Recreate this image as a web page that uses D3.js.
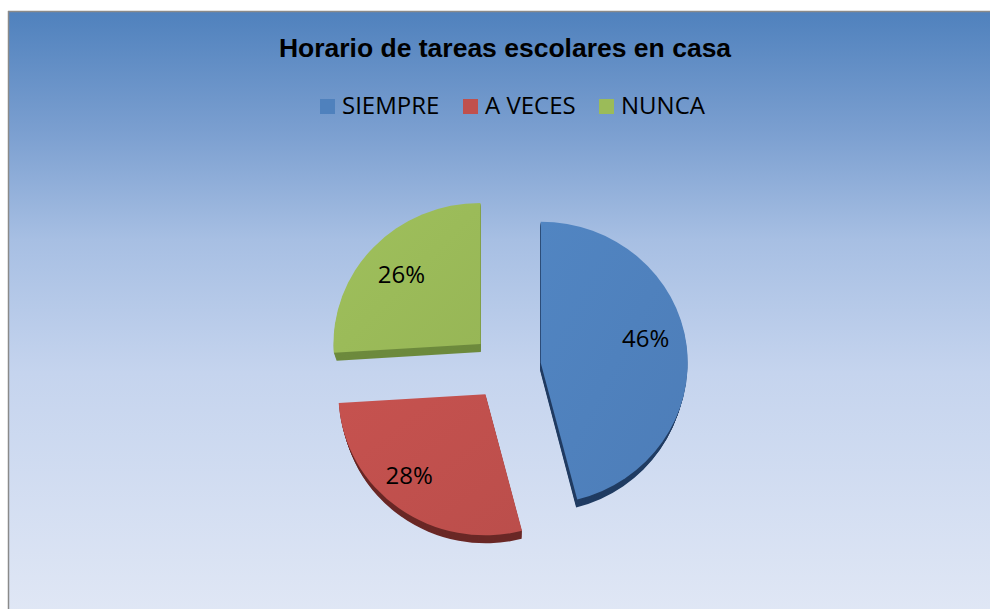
<!DOCTYPE html>
<html>
<head>
<meta charset="utf-8">
<script src="https://cdn.jsdelivr.net/npm/d3@7"></script>
<style>
html,body{margin:0;padding:0;background:#fff;}
svg{display:block;}
</style>
</head>
<body>
<svg id="chart" width="990" height="609"></svg>
<script>
// ---- data ----
const title = "Horario de tareas escolares en casa";
const categories = ["SIEMPRE", "A VECES", "NUNCA"];
const values = [46, 28, 26];
const labels = ["46%", "28%", "26%"];
const colors = ["#4f81bd", "#c0504d", "#9bbb59"];
const sideColors = ["#203c62", "#6a2826", "#6d8a3d"];

const W = 990, H = 609;
const svg = d3.select("#chart");
const defs = svg.append("defs");

// background gradient
const bg = defs.append("linearGradient").attr("id", "bg")
  .attr("x1", 0).attr("y1", 0).attr("x2", 0).attr("y2", 1);
[[0, "#4f81bd"], [0.2, "#7b9fd0"], [0.38, "#a7bfe3"], [0.6, "#c5d4ee"], [1, "#e0e7f5"]]
  .forEach(([o, c]) => bg.append("stop").attr("offset", o).attr("stop-color", c));

const frame = {x: 8, y: 11};
svg.append("rect").attr("x", frame.x).attr("y", frame.y)
  .attr("width", W - frame.x + 5).attr("height", H - frame.y + 5)
  .attr("fill", "url(#bg)");
svg.append("line").attr("x1", frame.x + 0.5).attr("x2", frame.x + 0.5)
  .attr("y1", frame.y).attr("y2", H).attr("stroke", "#8a8a8a").attr("stroke-width", 1.5);
svg.append("line").attr("x1", frame.x).attr("x2", W)
  .attr("y1", frame.y + 0.5).attr("y2", frame.y + 0.5).attr("stroke", "#8a8a8a").attr("stroke-width", 1.5);

// title
svg.append("text").attr("x", 505).attr("y", 57)
  .attr("text-anchor", "middle")
  .attr("font-family", "Liberation Sans, Arial, sans-serif")
  .attr("font-weight", "bold").attr("font-size", 26.5)
  .attr("fill", "#000").text(title);

// legend
const legendFont = "'Open Sans', sans-serif";
const legendItems = [{x: 320}, {x: 463}, {x: 599}];
const lg = svg.append("g");
categories.forEach((c, i) => {
  const g = lg.append("g").attr("transform", `translate(${legendItems[i].x},0)`);
  g.append("rect").attr("x", 0).attr("y", 99).attr("width", 15).attr("height", 15).attr("fill", colors[i]);
  g.append("text").attr("x", 22).attr("y", 114)
    .attr("font-family", legendFont).attr("font-size", 24).attr("fill", "#000").text(c);
});

// pie
const cx = 506, cy = 367, r = 147, explode = 35, ySquash = 0.96, depth = 8;
const pie = d3.pie().sort(null).value(d => d)(values);
const arc = d3.arc().innerRadius(0).outerRadius(r);
const pg = svg.append("g").attr("transform", `translate(${cx},${cy}) scale(1,${ySquash})`);

const slices = pg.selectAll("g.slice").data(pie).join("g").attr("class", "slice")
  .attr("transform", d => {
    const m = (d.startAngle + d.endAngle) / 2;
    return `translate(${explode * Math.sin(m)},${-explode * Math.cos(m)})`;
  });

// side (extrusion)
slices.each(function(d, i) {
  const g = d3.select(this);
  const m = (d.startAngle + d.endAngle) / 2;
  const ox = explode * Math.sin(m);
  for (let k = depth; k >= 1; k--) {
    const s = 1 - 0.016 * k / depth;
    const tx = -ox * (1 - s);
    g.append("path").attr("d", arc(d))
      .attr("transform", `translate(${tx},${k / ySquash}) scale(${s},1)`)
      .attr("fill", sideColors[i]);
  }
});

// top faces with subtle shading
pie.forEach((d, i) => {
  const gr = defs.append("linearGradient").attr("id", "face" + i)
    .attr("x1", 0).attr("y1", 0).attr("x2", 1).attr("y2", 1);
  gr.append("stop").attr("offset", 0).attr("stop-color", d3.color(colors[i]).brighter(0.08));
  gr.append("stop").attr("offset", 1).attr("stop-color", d3.color(colors[i]).darker(0.08));
});
slices.append("path").attr("d", d => arc(d)).attr("fill", (d, i) => `url(#face${i})`);

// labels
const labelArc = d3.arc().innerRadius(r * 0.72).outerRadius(r * 0.72);
const labelNudge = [[0, -12], [-14, -1], [-2, 0]];
slices.append("text")
  .attr("transform", (d, i) => {
    const [x, y] = labelArc.centroid(d);
    return `translate(${x + labelNudge[i][0]},${y + labelNudge[i][1]}) scale(1,${1 / ySquash})`;
  })
  .attr("text-anchor", "middle").attr("dy", "0.36em")
  .attr("font-family", legendFont).attr("font-size", 24).attr("fill", "#000")
  .text((d, i) => labels[i]);
</script>
</body>
</html>
